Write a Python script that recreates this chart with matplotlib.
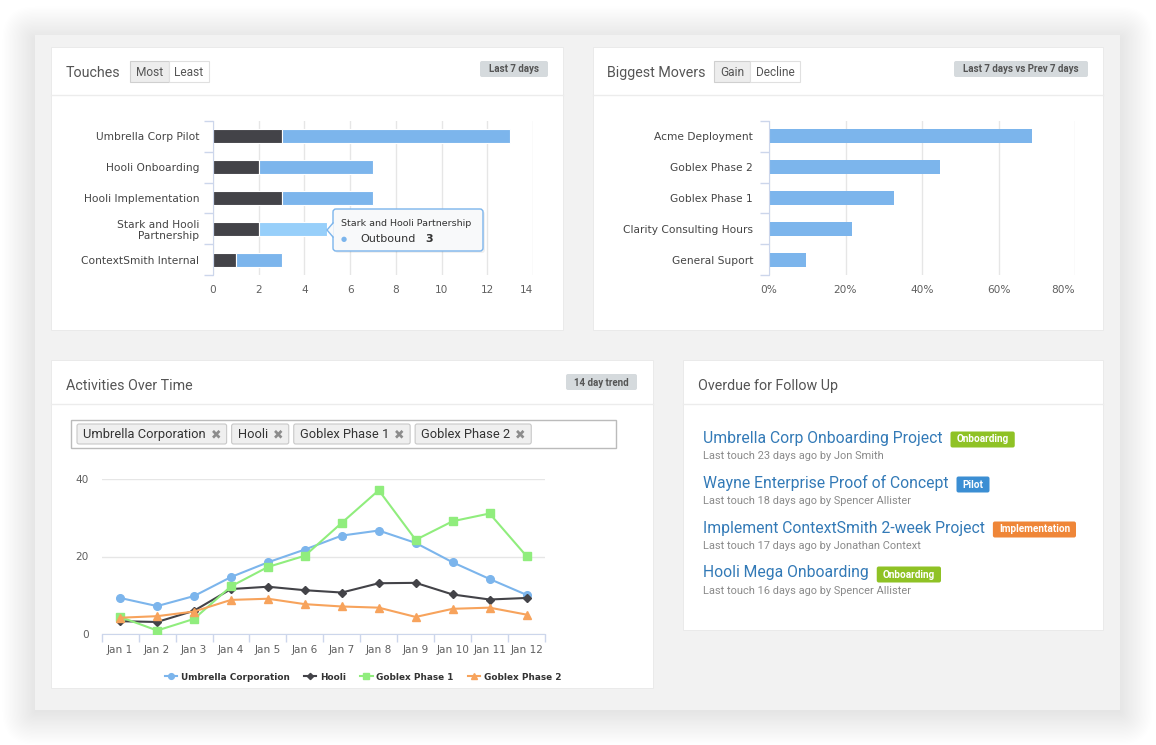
import matplotlib
matplotlib.use("Agg")
import matplotlib.pyplot as plt
from matplotlib.patches import Rectangle, FancyBboxPatch, Polygon
from matplotlib.lines import Line2D
import numpy as np

W, H = 1156, 745

# --- data -------------------------------------------------------------
touch_projects = ["Umbrella Corp Pilot", "Hooli Onboarding", "Hooli Implementation",
                  "Stark and Hooli\nPartnership", "ContextSmith Internal"]
touch_inbound = [3, 2, 3, 2, 1]
touch_outbound = [10, 5, 4, 3, 2]
touch_ticks = [0, 2, 4, 6, 8, 10, 12, 14]

mover_projects = ["Acme Deployment", "Goblex Phase 2", "Goblex Phase 1",
                  "Clarity Consulting Hours", "General Suport"]
mover_gain = [68.7, 44.6, 32.6, 21.6, 9.6]
mover_ticks = [0, 20, 40, 60, 80]

days = ["Jan 1", "Jan 2", "Jan 3", "Jan 4", "Jan 5", "Jan 6",
        "Jan 7", "Jan 8", "Jan 9", "Jan 10", "Jan 11", "Jan 12"]
umbrella = [9.3, 7.2, 9.8, 14.7, 18.5, 21.8, 25.4, 26.7, 23.5, 18.5, 14.2, 10.1]
hooli = [3.3, 3.1, 6.0, 11.6, 12.2, 11.3, 10.7, 13.1, 13.2, 10.2, 8.9, 9.3]
goblex1 = [4.4, 0.9, 3.9, 12.3, 17.3, 20.2, 28.7, 37.1, 24.3, 29.1, 31.1, 20.1]
goblex2 = [4.2, 4.6, 5.8, 8.8, 9.1, 7.7, 7.1, 6.8, 4.4, 6.5, 6.8, 5.0]
activity_ticks = [0, 20, 40]
activity_filters = ["Umbrella Corporation", "Hooli", "Goblex Phase 1", "Goblex Phase 2"]

followups = ["Umbrella Corp Onboarding Project", "Wayne Enterprise Proof of Concept",
             "Implement ContextSmith 2-week Project", "Hooli Mega Onboarding"]
followup_notes = ["Last touch 23 days ago by Jon Smith",
                  "Last touch 18 days ago by Spencer Allister",
                  "Last touch 17 days ago by Jonathan Context",
                  "Last touch 16 days ago by Spencer Allister"]
followup_stages = ["Onboarding", "Pilot", "Implementation", "Onboarding"]
stage_colors = {"Onboarding": "#8fc225", "Pilot": "#3b8ed3", "Implementation": "#ef8638"}

BLUE, DARK, GREEN, ORANGE = "#7cb5ec", "#434348", "#90ed7d", "#f7a35c"
AXIS = "#ccd6eb"
GRID = "#e6e6e6"
LABEL = "#606060"
TITLE_FONT = "Roboto"

fig = plt.figure(figsize=(W / 100, H / 100), dpi=100)
fig.patch.set_facecolor("white")


def axes_px(x0, y0, x1, y1, z=1):
    return fig.add_axes([x0 / W, 1 - y1 / H, (x1 - x0) / W, (y1 - y0) / H], zorder=z)


def pixel_layer(z):
    a = fig.add_axes([0, 0, 1, 1], zorder=z)
    a.set_xlim(0, W)
    a.set_ylim(H, 0)
    a.axis("off")
    a.patch.set_alpha(0)
    return a


def text_right(t):
    fig.canvas.draw()
    return t.get_window_extent(fig.canvas.get_renderer()).x1


bg = pixel_layer(0)

# soft shadow and grey panel
for i in range(26):
    g = i * 1.3
    bg.add_patch(FancyBboxPatch((35 - g, 39 - g), 1085 + 2 * g, 673 + 2 * g,
                                boxstyle=f"round,pad=0,rounding_size={g + 0.1}",
                                facecolor="black", alpha=0.0042, lw=0))
bg.add_patch(Rectangle((35, 35), 1085, 675, facecolor="#f2f2f2", lw=0))

cards = [(51, 47, 563, 330, 95), (593, 47, 1103, 330, 95),
         (51, 360, 653, 688, 404), (683, 360, 1103, 630, 404)]
for x0, y0, x1, y1, hy in cards:
    bg.add_patch(Rectangle((x0, y0), x1 - x0, y1 - y0, facecolor="white",
                           edgecolor="#e8e8e8", lw=0.6))
    bg.plot([x0, x1], [hy, hy], color="#ececec", lw=1)


def card_title(x, y, s):
    bg.text(x, y, s, fontsize=10.3, color="#555555", family=TITLE_FONT,
            va="center", ha="left")


def button_group(x, y, widths, labels):
    for i, (w, lab) in enumerate(zip(widths, labels)):
        bg.add_patch(Rectangle((x, y), w, 21, facecolor="#ededed" if i == 0 else "white",
                               edgecolor="#cfcfcf" if i == 0 else "#e0e0e0", lw=0.8))
        bg.text(x + w / 2, y + 11, lab, fontsize=8.6, color="#555555", family=TITLE_FONT,
                ha="center", va="center")
        x += w


def badge(x0, x1, y, s):
    bg.add_patch(FancyBboxPatch((x0, y), x1 - x0, 16,
                                boxstyle="round,pad=0,rounding_size=2",
                                facecolor="#d5dadd", lw=0))
    bg.text((x0 + x1) / 2, y + 8.5, s, fontsize=7, color="#555555", family=TITLE_FONT,
            fontweight="bold", ha="center", va="center")


card_title(66, 73, "Touches")
button_group(130, 61, [39, 40], ["Most", "Least"])
badge(480, 548, 61, "Last 7 days")

card_title(607, 73, "Biggest Movers")
button_group(714, 61, [36, 50], ["Gain", "Decline"])
badge(954, 1088, 61, "Last 7 days vs Prev 7 days")

card_title(66, 386, "Activities Over Time")
badge(566, 637, 374, "14 day trend")

card_title(698, 386, "Overdue for Follow Up")

# --- Touches ----------------------------------------------------------
ax1 = axes_px(213, 121, 533, 275)
y = np.arange(len(touch_projects))
out_colors = [BLUE] * len(touch_projects)
out_colors[3] = "#97cffa"
ax1.barh(y, touch_inbound, height=0.46, color=DARK, edgecolor="white", lw=0.8, zorder=3)
ax1.barh(y, touch_outbound, left=touch_inbound, height=0.46, color=out_colors,
         edgecolor="white", lw=0.8, zorder=3)


def style_bar_axes(ax, labels, xmax, ticks, tick_text, pad_y):
    ax.set_xlim(0, xmax)
    ax.set_ylim(len(labels) - 0.5, -0.5)
    ax.set_xticks(ticks)
    ax.set_xticklabels(tick_text)
    ax.set_yticks(np.arange(len(labels)))
    ax.set_yticklabels(labels, fontsize=7.7, color="#444444", linespacing=1.2)
    ax.set_yticks(np.arange(-0.5, len(labels)), minor=True)
    ax.tick_params(axis="y", which="major", length=0, pad=pad_y)
    ax.tick_params(axis="y", which="minor", length=6.5, color=AXIS, width=1)
    ax.tick_params(axis="x", length=0, pad=7, labelsize=7.6, labelcolor=LABEL)
    ax.grid(axis="x", color=GRID, lw=1, zorder=0)
    for s in ["top", "right", "bottom"]:
        ax.spines[s].set_visible(False)
    ax.spines["left"].set_color(AXIS)
    ax.spines["left"].set_zorder(4)
    ax.patch.set_alpha(0)
    ax.get_xticklabels()[-1].set_ha("right")


style_bar_axes(ax1, touch_projects, 14, touch_ticks, [str(t) for t in touch_ticks], 10)

# --- Biggest Movers ---------------------------------------------------
ax2 = axes_px(769, 121, 1075, 275)
ax2.barh(np.arange(len(mover_projects)), mover_gain, height=0.46, color=BLUE, zorder=3)
style_bar_axes(ax2, mover_projects, 80, mover_ticks, [f"{t}%" for t in mover_ticks], 11.5)

# --- Activities Over Time ---------------------------------------------
bg.add_patch(Rectangle((71, 420), 545, 28, facecolor="white", edgecolor="#bbbbbb", lw=1))
tag_x = 77
for name in activity_filters:
    t = bg.text(tag_x + 6, 434.5, name, fontsize=9.3, color="#333333", family=TITLE_FONT,
                va="center", ha="left", zorder=4)
    xt = text_right(t) + 5
    bg.text(xt, 434.5, "\u2716", fontsize=9, color="#8c8c8c", va="center", ha="left",
            zorder=4)
    x_end = xt + 16
    bg.add_patch(FancyBboxPatch((tag_x, 424), x_end - tag_x, 20,
                                boxstyle="round,pad=0,rounding_size=2",
                                facecolor="#efefef", edgecolor="#c8c8c8", lw=0.8, zorder=3))
    tag_x = x_end + 5

ax3 = axes_px(101.7, 479, 545, 634)
xs = np.arange(len(days))
series = [("Umbrella Corporation", umbrella, BLUE, "o", 5.5),
          ("Hooli", hooli, DARK, "D", 4.2),
          ("Goblex Phase 1", goblex1, GREEN, "s", 5.2),
          ("Goblex Phase 2", goblex2, ORANGE, "^", 5.5)]
handles = []
for name, vals, col, mk, ms in series:
    ax3.plot(xs, vals, color=col, lw=1.5, marker=mk, ms=ms, mec=col, zorder=3)
    handles.append(Line2D([], [], color=col, lw=1.5, marker=mk, ms=ms * 0.75, mec=col,
                          label=name))
ax3.set_xlim(-0.5, len(days) - 0.5)
ax3.set_ylim(0, 40)
ax3.set_yticks(activity_ticks)
ax3.set_xticks(xs)
ax3.set_xticklabels(days)
ax3.set_xticks(np.arange(-0.5, len(days)), minor=True)
ax3.tick_params(axis="x", which="major", length=0, pad=8, labelsize=7.6, labelcolor=LABEL)
ax3.tick_params(axis="x", which="minor", length=6, color=AXIS, width=1)
ax3.tick_params(axis="y", length=0, pad=9.5, labelsize=7.6, labelcolor=LABEL)
ax3.grid(axis="y", color=GRID, lw=1, zorder=0)
for s in ["top", "right", "left"]:
    ax3.spines[s].set_visible(False)
ax3.spines["bottom"].set_color(AXIS)
ax3.patch.set_alpha(0)
leg = ax3.legend(handles=handles, loc="center", bbox_to_anchor=(363 / W, 1 - 677 / H),
                 bbox_transform=fig.transFigure, ncol=4, frameon=False,
                 prop={"size": 6.4, "weight": "bold"}, handlelength=1.4,
                 handletextpad=0.4, columnspacing=1.6)
for txt in leg.get_texts():
    txt.set_color("#333333")

# --- Overdue for Follow Up --------------------------------------------
for i, (title, note, stage) in enumerate(zip(followups, followup_notes, followup_stages)):
    yt = 438 + 45 * i
    t = bg.text(703, yt, title, fontsize=11.3, color="#337ab7", family=TITLE_FONT,
                va="center", ha="left")
    bg.text(703, yt + 18, note, fontsize=7.9, color="#8a8a8a", family=TITLE_FONT,
            va="center", ha="left")
    bx = text_right(t) + 8
    lab = bg.text(bx + 6, yt + 1.5, stage, fontsize=7.2, color="white", fontweight="bold",
                  family=TITLE_FONT, va="center", ha="left", zorder=4)
    bg.add_patch(FancyBboxPatch((bx, yt - 6.5), text_right(lab) + 6 - bx, 16,
                                boxstyle="round,pad=0,rounding_size=2",
                                facecolor=stage_colors[stage], lw=0, zorder=3))

# --- tooltip ----------------------------------------------------------
top = pixel_layer(10)
top.add_patch(FancyBboxPatch((335, 211), 150, 42, boxstyle="round,pad=0,rounding_size=3",
                             facecolor="black", alpha=0.06, lw=0))
top.add_patch(FancyBboxPatch((333, 209), 150, 42, boxstyle="round,pad=0,rounding_size=3",
                             facecolor="#f8f9fa", edgecolor=BLUE, lw=1))
top.add_patch(Polygon([(333.8, 223), (327, 230), (333.8, 237)], closed=True,
                      facecolor="#f8f9fa", edgecolor="none"))
top.plot([333, 327, 333], [223, 230, 237], color=BLUE, lw=1)
top.text(341, 224, "Stark and Hooli Partnership", fontsize=6.8, color="#333333",
         va="center", ha="left")
top.text(344, 239.5, "\u25cf", fontsize=5, color=BLUE, va="center", ha="center")
top.text(360, 239, "Outbound", fontsize=8, color="#333333", va="center", ha="left")
top.text(425, 239, "3", fontsize=8, color="#333333", fontweight="bold", va="center", ha="left")

fig.savefig("out.png", dpi=100)
